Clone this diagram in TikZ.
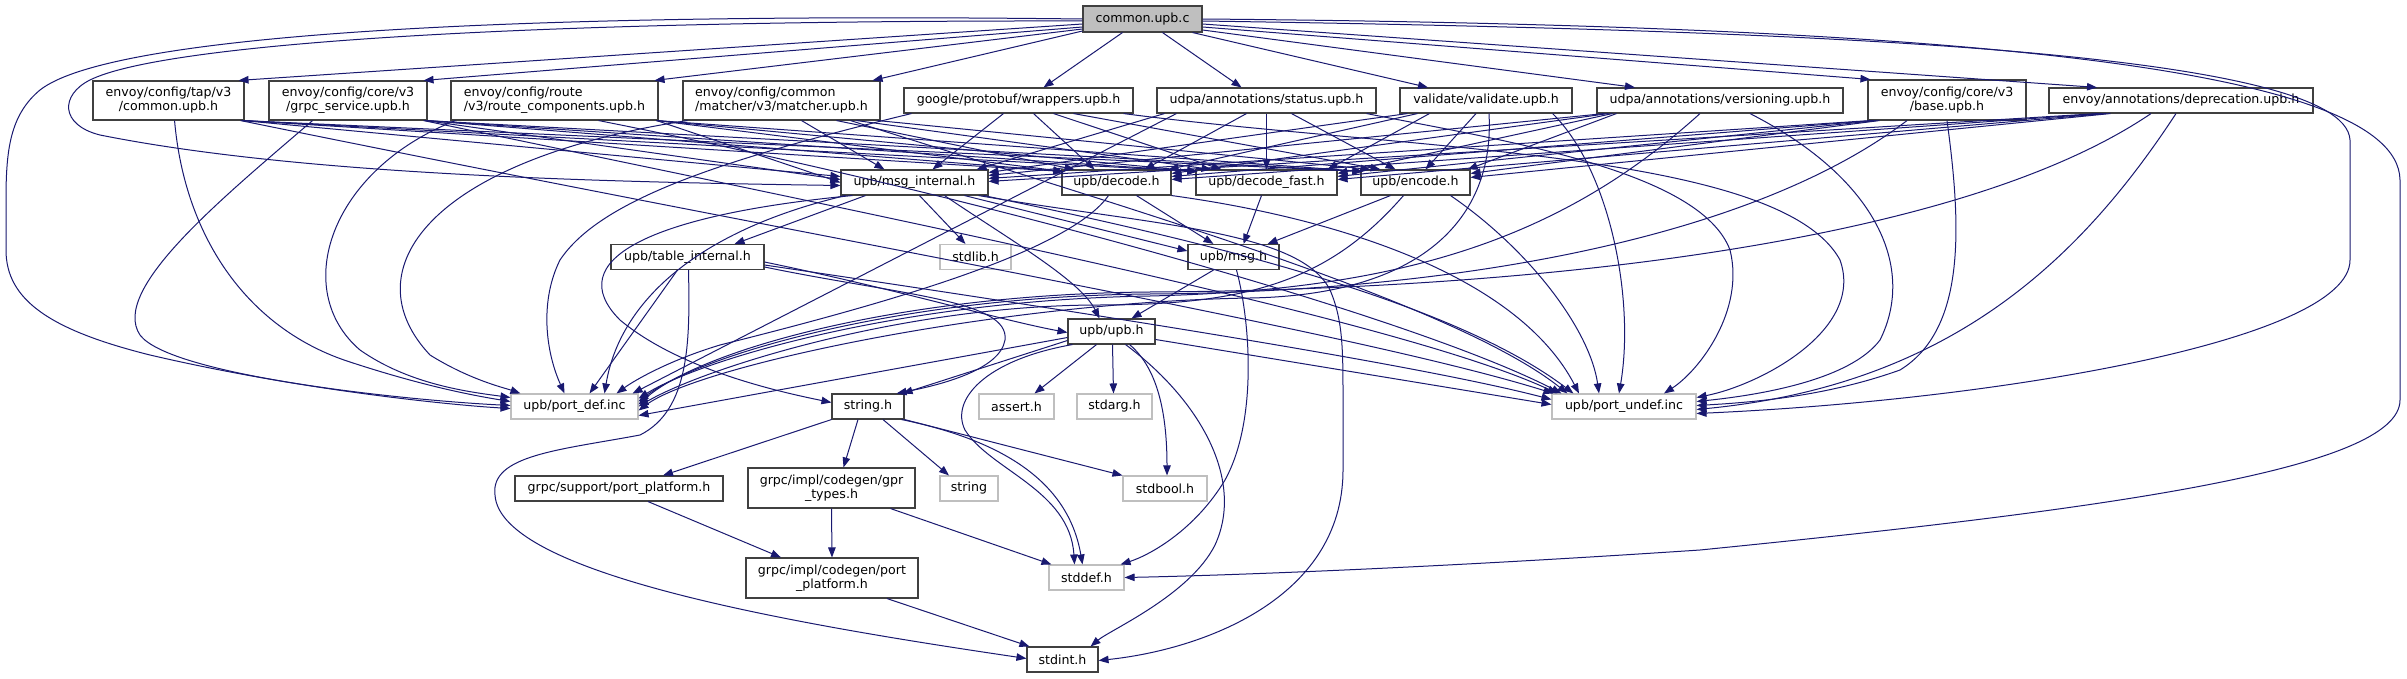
\documentclass[tikz,border=0pt]{standalone}
\usepackage{fontspec}
\setmainfont{DejaVu Sans}
\usetikzlibrary{arrows.meta}
\definecolor{edgec}{HTML}{191970}
\definecolor{grayb}{HTML}{BFBFBF}
\definecolor{rootf}{HTML}{BFBFBF}
\definecolor{boxb}{HTML}{404040}
\begin{document}
\begin{tikzpicture}[x=1pt,y=-1pt,
  nb/.style={draw=boxb, line width=1.1pt, fill=white, inner sep=0pt, text=black,
    font=\fontsize{12.6}{14}\selectfont},
  gb/.style={nb, draw=grayb},
  e/.style={draw=edgec, line width=1pt, -{Triangle[length=10pt,width=7.5pt]}}]
\useasboundingbox[fill=white] (0,0) rectangle (2407,679);
% ---------------- nodes ----------------
\node[nb, fill=rootf, minimum width=119pt, minimum height=26pt] (root) at (1142.5,19) {common.upb.c};
\node[nb, align=center, minimum width=151pt, minimum height=39pt] (tap) at (168.5,100.5) {envoy/config/tap/v3\\/common.upb.h};
\node[nb, align=center, minimum width=158pt, minimum height=39pt] (grpc) at (348,100.5) {envoy/config/core/v3\\/grpc\_service.upb.h};
\node[nb, align=left, minimum width=207pt, minimum height=39pt] (route) at (554.5,100.5) {envoy/config/route\\/v3/route\_components.upb.h};
\node[nb, align=left, minimum width=197pt, minimum height=39pt] (matcher) at (781.5,100.5) {envoy/config/common\\/matcher/v3/matcher.upb.h};
\node[nb, minimum width=229pt, minimum height=25pt] (wrap) at (1018.5,100.5) {google/protobuf/wrappers.upb.h};
\node[nb, minimum width=219pt, minimum height=25pt] (status) at (1266.5,100.5) {udpa/annotations/status.upb.h};
\node[nb, minimum width=172pt, minimum height=25pt] (valid) at (1486,100.5) {validate/validate.upb.h};
\node[nb, minimum width=246pt, minimum height=25pt] (vers) at (1720,100.5) {udpa/annotations/versioning.upb.h};
\node[nb, align=center, minimum width=158pt, minimum height=40pt] (base) at (1947,100) {envoy/config/core/v3\\/base.upb.h};
\node[nb, minimum width=264pt, minimum height=25pt] (depr) at (2181,100.5) {envoy/annotations/deprecation.upb.h};
\node[nb, minimum width=147pt, minimum height=25pt] (mi) at (914.5,182.5) {upb/msg\_internal.h};
\node[nb, minimum width=109pt, minimum height=25pt] (dec) at (1116.5,182.5) {upb/decode.h};
\node[nb, minimum width=141pt, minimum height=25pt] (decf) at (1266.5,182.5) {upb/decode\_fast.h};
\node[nb, minimum width=109pt, minimum height=25pt] (enc) at (1415.5,182.5) {upb/encode.h};
\node[nb, minimum width=153pt, minimum height=25pt] (ti) at (687.5,257) {upb/table\_internal.h};
\node[gb, minimum width=71pt, minimum height=25pt] (stdlib) at (975.5,257) {stdlib.h};
\node[nb, minimum width=91pt, minimum height=25pt] (msg) at (1233.5,257) {upb/msg.h};
\node[nb, minimum width=87pt, minimum height=25pt] (upb) at (1111.5,331.5) {upb/upb.h};
\node[gb, minimum width=127pt, minimum height=25pt] (pd) at (574.5,406.5) {upb/port\_def.inc};
\node[nb, minimum width=72pt, minimum height=25pt] (strh) at (868,406.5) {string.h};
\node[gb, minimum width=75pt, minimum height=25pt] (assert) at (1016.5,406.5) {assert.h};
\node[gb, minimum width=75pt, minimum height=25pt] (stdarg) at (1114.5,406.5) {stdarg.h};
\node[gb, minimum width=144pt, minimum height=25pt] (pu) at (1624,406.5) {upb/port\_undef.inc};
\node[nb, minimum width=208pt, minimum height=25pt] (gpp) at (619,488.5) {grpc/support/port\_platform.h};
\node[nb, align=center, minimum width=167pt, minimum height=40pt] (gpr) at (831.5,488) {grpc/impl/codegen/gpr\\\_types.h};
\node[gb, minimum width=58pt, minimum height=25pt] (str) at (969,488.5) {string};
\node[gb, minimum width=84pt, minimum height=25pt] (stdbool) at (1165,488.5) {stdbool.h};
\node[nb, align=center, minimum width=172pt, minimum height=40pt] (cpp) at (832,578) {grpc/impl/codegen/port\\\_platform.h};
\node[gb, minimum width=75pt, minimum height=25pt] (stddef) at (1086.5,577.5) {stddef.h};
\node[nb, minimum width=71pt, minimum height=25pt] (stdint) at (1062.5,659.5) {stdint.h};
% ---------------- root edges ----------------
\draw[e] ([yshift=-5]root.west) -- ([xshift=-6]tap.north east);
\draw[e] ([yshift=-8]root.west) -- ([xshift=-4]grpc.north east);
\draw[e] ([yshift=-10]root.west) -- ([xshift=-4]route.north east);
\draw[e] ([yshift=-12]root.west) -- ([xshift=-8]matcher.north east);
\draw[e] ([xshift=-20]root.south) -- ([xshift=25]wrap.north);
\draw[e] ([xshift=20]root.south) -- ([xshift=-25]status.north);
\draw[e] ([xshift=-10]root.south east) -- ([xshift=-58]valid.north);
\draw[e] ([yshift=-11]root.east) -- ([xshift=-85]vers.north);
\draw[e] ([yshift=-8]root.east) -- ([xshift=3]base.north west);
\draw[e] ([yshift=-5]root.east) -- ([xshift=-84]depr.north);
\draw[e] ([yshift=-2]root.east) .. controls (1800,30) and (2345,50) .. (2350,140) -- (2350,260) .. controls (2350,340) and (2000,400) .. ([yshift=-7]pu.east);
\draw[e] ([yshift=0]root.east) .. controls (1900,25) and (2398,60) .. (2400,180) -- (2400,400) .. controls (2400,470) and (2100,510) .. (1700,550) .. controls (1400,570) and (1200,576) .. (stddef.east);
\draw[e] ([yshift=0]root.west) .. controls (500,12) and (110,35) .. (40,90) .. controls (10,115) and (6,150) .. (6,200) -- (6,250) .. controls (6,300) and (50,330) .. (150,355) .. controls (300,390) and (450,405) .. ([yshift=-2]pd.west);
\draw[e] ([yshift=-2]root.west) .. controls (500,20) and (160,45) .. (90,80) .. controls (60,95) and (60,125) .. (100,135) .. controls (300,175) and (600,182) .. ([yshift=-3]mi.west);
% ---------------- header -> row ----------------
\foreach \h/\m in {tap/6,grpc/3,route/0}{
  \draw[e] ([xshift=-2]\h.south east) -- ([yshift=\m]mi.west);
  \draw[e] ([xshift=-2]\h.south east) -- ([yshift=-2,xshift=2]dec.north west);
  \draw[e] ([xshift=-2]\h.south east) -- ([yshift=-2,xshift=2]decf.north west);
  \draw[e] ([xshift=-2]\h.south east) -- ([yshift=-2,xshift=2]enc.north west);
}
\draw[e] ([xshift=20]matcher.south) -- ([xshift=-30]mi.north);
\draw[e] ([xshift=55]matcher.south) -- ([xshift=-42]dec.north);
\draw[e] ([xshift=75]matcher.south) -- ([xshift=-55]decf.north);
\draw[e] ([xshift=-3]matcher.south east) -- ([xshift=-45]enc.north);
\draw[e] ([xshift=-15]wrap.south) -- ([xshift=18]mi.north);
\draw[e] ([xshift=15]wrap.south) -- ([xshift=-22]dec.north);
\draw[e] ([xshift=35]wrap.south) -- ([xshift=-45]decf.north);
\draw[e] ([xshift=55]wrap.south) -- ([xshift=-35]enc.north);
\draw[e] ([xshift=8]status.south west) -- ([xshift=-12]mi.north east);
\draw[e] ([xshift=-20]status.south) -- ([xshift=28]dec.north);
\draw[e] (status.south) -- (decf.north);
\draw[e] ([xshift=25]status.south) -- ([xshift=-20]enc.north);
\draw[e] ([xshift=8]valid.south west) -- ([yshift=-3]mi.north east);
\draw[e] ([xshift=18]valid.south west) -- ([xshift=-3]dec.north east);
\draw[e] ([xshift=30]valid.south west) -- ([xshift=-10]decf.north east);
\draw[e] ([xshift=-10]valid.south) -- ([xshift=10]enc.north);
\draw[e] ([xshift=8]vers.south west) -- ([yshift=-6]mi.north east);
\draw[e] ([xshift=12]vers.south west) -- ([yshift=-4]dec.north east);
\draw[e] ([xshift=16]vers.south west) -- ([yshift=-4]decf.north east);
\draw[e] ([xshift=20]vers.south west) -- ([xshift=-3]enc.north east);
\draw[e] ([xshift=3]base.south west) -- ([yshift=-9]mi.north east);
\draw[e] ([xshift=6]base.south west) -- ([yshift=-7]dec.north east);
\draw[e] ([xshift=9]base.south west) -- ([yshift=-7]decf.north east);
\draw[e] ([xshift=12]base.south west) -- ([yshift=-4]enc.north east);
\draw[e] ([xshift=50]depr.south west) -- ([yshift=-12]mi.north east);
\draw[e] ([xshift=54]depr.south west) -- ([yshift=-10]dec.north east);
\draw[e] ([xshift=58]depr.south west) -- ([yshift=-10]decf.north east);
\draw[e] ([xshift=62]depr.south west) -- ([yshift=-8]enc.north east);
% ---------------- headers -> port_def ----------------
\draw[e] ([xshift=-70]tap.south east) .. controls (185,240) and (250,330) .. (350,362) .. controls (420,385) and (470,395) .. ([yshift=5]pd.west);
\draw[e] ([xshift=-115]grpc.south east) .. controls (220,200) and (110,290) .. (140,335) .. controls (170,375) and (400,400) .. ([yshift=1]pd.west);
\draw[e] ([xshift=5]route.south west) .. controls (330,170) and (290,290) .. (360,350) .. controls (410,385) and (470,392) .. ([yshift=9]pd.west);
\draw[e] ([xshift=5]matcher.south west) .. controls (430,160) and (350,270) .. (430,355) .. controls (470,380) and (505,388) .. ([xshift=10]pd.north west);
\draw[e] ([xshift=8]wrap.south west) .. controls (720,160) and (600,200) .. (560,260) .. controls (540,300) and (545,350) .. ([xshift=-10]pd.north);
\draw[e] ([xshift=20]status.south west) -- ([xshift=-6]pd.north east);
\draw[e] ([xshift=3]valid.south) .. controls (1495,220) and (1420,295) .. (1250,298) .. controls (1000,302) and (700,365) .. ([yshift=-4]pd.east);
\draw[e] ([xshift=-20]vers.south) .. controls (1560,240) and (1400,290) .. (1150,296) .. controls (900,300) and (700,360) .. ([yshift=8]pd.east);
\draw[e] ([xshift=-40]base.south) .. controls (1750,240) and (1450,292) .. (1150,294) .. controls (900,296) and (700,355) .. ([yshift=5]pd.east);
\draw[e] ([xshift=-30]depr.south) .. controls (1950,250) and (1500,290) .. (1150,292) .. controls (900,294) and (700,350) .. ([yshift=2]pd.east);
% ---------------- headers -> port_undef ----------------
\draw[e] ([xshift=-4]tap.south east) .. controls (800,235) and (1350,330) .. ([xshift=2]pu.north west);
\draw[e] ([xshift=-4]grpc.south east) .. controls (900,220) and (1400,320) .. ([xshift=6]pu.north west);
\draw[e] ([xshift=-60]route.south east) .. controls (1000,200) and (1420,320) .. ([xshift=10]pu.north west);
\draw[e] ([xshift=-30]matcher.south east) .. controls (1100,200) and (1450,300) .. ([xshift=16]pu.north west);
\draw[e] ([xshift=-10]wrap.south east) .. controls (1400,150) and (1780,150) .. (1840,260) .. controls (1865,330) and (1760,385) .. ([yshift=9]pu.east);
\draw[e] ([xshift=-10]status.south east) .. controls (1500,140) and (1700,170) .. (1730,250) .. controls (1745,310) and (1700,370) .. ([xshift=40]pu.north);
\draw[e] ([xshift=-20]valid.south east) .. controls (1610,170) and (1635,300) .. ([xshift=-5]pu.north);
\draw[e] ([xshift=30]vers.south) .. controls (1880,180) and (1915,270) .. (1880,340) .. controls (1850,380) and (1760,395) .. ([yshift=5]pu.east);
\draw[e] (base.south) .. controls (1962,230) and (1965,330) .. (1900,370) .. controls (1830,395) and (1760,402) .. ([yshift=1]pu.east);
\draw[e] ([xshift=-5]depr.south) .. controls (2080,260) and (1950,385) .. ([yshift=-3]pu.east);
% ---------------- msg_internal ----------------
\draw[e] ([xshift=25]mi.south west) -- ([xshift=-30]ti.north east);
\draw[e] ([xshift=5]mi.south) -- ([xshift=-10]stdlib.north);
\draw[e] ([xshift=50]mi.south) -- ([yshift=6]msg.west);
\draw[e] ([xshift=30]mi.south) .. controls (1010,240) and (1080,280) .. ([xshift=-12]upb.north);
\draw[e] ([xshift=12]mi.south west) .. controls (650,215) and (560,260) .. (620,320) .. controls (680,370) and (780,392) .. ([yshift=4]strh.west);
\draw[e] ([xshift=5]mi.south west) .. controls (700,230) and (620,300) .. ([xshift=30]pd.north);
\draw[e] ([xshift=-5]mi.south east) .. controls (1200,240) and (1450,300) .. ([xshift=22]pu.north west);
\draw[e] ([xshift=-10]mi.south east) .. controls (1150,225) and (1300,230) .. (1330,290) .. controls (1343,320) and (1343,350) .. (1343,400) -- (1343,470) .. controls (1343,600) and (1200,650) .. ([yshift=-1]stdint.east);
% ---------------- table_internal ----------------
\draw[e] ([yshift=-5]ti.east) .. controls (900,290) and (1000,320) .. ([yshift=-1]upb.west);
\draw[e] ([yshift=-8]ti.east) .. controls (1000,300) and (1400,360) .. ([yshift=7]pu.west);
\draw[e] ([yshift=-10]ti.east) .. controls (900,295) and (1010,300) .. (1005,340) .. controls (1000,370) and (940,385) .. ([xshift=-8]strh.north east);
\draw[e] ([xshift=-10]ti.south) -- ([xshift=15]pd.north);
\draw[e] ([xshift=1]ti.south) .. controls (690,340) and (690,410) .. (640,435) .. controls (560,450) and (490,455) .. (495,495) .. controls (500,575) and (800,625) .. ([yshift=1]stdint.west);
% ---------------- msg / decode / encode ----------------
\draw[e] ([xshift=-20]msg.south) -- ([xshift=20]upb.north);
\draw[e] ([xshift=3]msg.south) .. controls (1250,320) and (1258,420) .. (1225,480) .. controls (1195,530) and (1150,555) .. ([xshift=-4]stddef.north east);
\draw[e] ([xshift=20]dec.south) -- ([xshift=-20]msg.north);
\draw[e] ([xshift=-8]dec.south) .. controls (1070,250) and (900,300) .. (720,345) .. controls (670,360) and (635,380) .. ([xshift=42]pd.north);
\draw[e] (dec.south east) .. controls (1350,220) and (1520,280) .. ([xshift=-45]pu.north);
\draw[e] ([xshift=-5]decf.south) -- ([xshift=10]msg.north);
\draw[e] ([xshift=-25]enc.south) -- ([xshift=-12]msg.north east);
\draw[e] ([xshift=-12]enc.south) .. controls (1330,280) and (1250,305) .. (1100,305) .. controls (900,305) and (700,370) .. ([yshift=0]pd.east);
\draw[e] ([xshift=35]enc.south) .. controls (1530,250) and (1590,330) .. ([xshift=-25]pu.north);
% ---------------- upb.h ----------------
\draw[e] ([yshift=-6]upb.west) -- ([yshift=-9]pd.east);
\draw[e] ([yshift=-8]upb.east) -- ([yshift=2]pu.west);
\draw[e] ([yshift=-9]upb.west) -- ([xshift=-2]strh.north east);
\draw[e] ([xshift=-15]upb.south) -- ([xshift=18]assert.north);
\draw[e] ([xshift=1]upb.south) -- ([xshift=-1]stdarg.north);
\draw[e] ([xshift=18]upb.south) .. controls (1160,370) and (1167,420) .. ([xshift=2]stdbool.north);
\draw[e] ([xshift=5]upb.south west) .. controls (985,360) and (950,400) .. (965,430) .. controls (990,470) and (1070,490) .. ([xshift=-12]stddef.north);
\draw[e] ([xshift=14]upb.south) .. controls (1200,400) and (1245,480) .. (1215,545) .. controls (1190,595) and (1110,630) .. ([xshift=-8]stdint.north east);
% ---------------- string.h and grpc ----------------
\draw[e] (strh.south west) -- ([xshift=44]gpp.north);
\draw[e] ([xshift=-10]strh.south) -- ([xshift=12]gpr.north);
\draw[e] ([xshift=15]strh.south) -- ([xshift=-20]str.north);
\draw[e] (strh.south east) -- (stdbool.north west);
\draw[e] ([xshift=-3]strh.south east) .. controls (1000,440) and (1068,480) .. ([xshift=-4]stddef.north);
\draw[e] (gpr.south) -- (cpp.north);
\draw[e] ([xshift=-25]gpr.south east) -- ([xshift=3]stddef.north west);
\draw[e] ([xshift=29]gpp.south) -- ([xshift=-51]cpp.north);
\draw[e] ([xshift=55]cpp.south) -- ([xshift=3]stdint.north west);
\end{tikzpicture}
\end{document}
